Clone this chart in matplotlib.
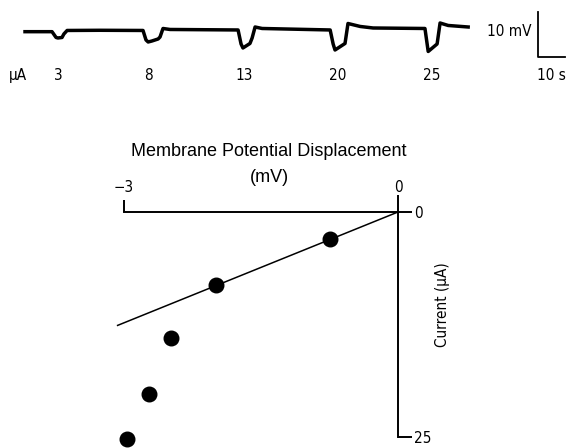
# -*- coding: utf-8 -*-

import matplotlib
matplotlib.use('Agg')
import matplotlib.pyplot as plt

plt.rcParams['font.family'] = ['DejaVu Sans']
plt.rcParams['font.stretch'] = 'condensed'

# Recording trace (time in s, potential in mV relative to rest)
trace_t = [0.0, 10.0, 11.5, 12.2, 13.7, 14.4, 15.6, 27.8, 43.7, 44.8, 45.6, 47.0,
           49.3, 50.0, 51.1, 53.7, 78.9, 80.0, 80.7, 83.3, 84.1, 85.2, 87.8,
           113.0, 114.1, 114.8, 118.5, 119.6, 124.1, 128.9, 148.1, 149.3, 152.6,
           153.7, 156.7, 164.1]
trace_mv = [0.0, 0.0, -1.29, -1.40, -1.29, -0.51, 0.27, 0.31, 0.27, -1.84, -2.29, -2.07,
            -1.62, -1.18, 0.71, 0.49, 0.38, -2.73, -3.62, -2.62, -1.40, 1.04, 0.71,
            0.38, -2.73, -4.07, -2.62, 1.82, 1.16, 0.82, 0.71, -4.40, -2.73,
            1.93, 1.38, 1.04]

# current steps and where they were applied
step_labels = ['3', '8', '13', '20', '25']
step_t = [12.2, 45.6, 81.1, 115.9, 150.7]

scale_mv = 10
scale_s = 10

# I-V relation
disp_mv = [-0.74, -1.99, -2.49, -2.73, -2.97]
current_ua = [3.0, 8.1, 14.0, 20.2, 25.2]
fit_x = [-3.07, 0.0]
fit_y = [12.6, 0.0]

W, H = 567, 448
fs = 11
fig = plt.figure(figsize=(W / 100, H / 100), dpi=100)

# ---- top: trace ----
ax1 = fig.add_axes([0, 1 - 90 / H, 1, 90 / H])
ax1.plot(trace_t, trace_mv, color='black', linewidth=2.5, solid_joinstyle='round')
ax1.set_xlim(-9.26, 200.7)
ax1.set_ylim(-12.96, 7.04)
ax1.axis('off')

# scale bar
bar_t, bar_v = 190, -5.62
ax1.plot([bar_t, bar_t, bar_t + scale_s], [bar_v + scale_mv, bar_v, bar_v],
         color='black', linewidth=1.3)
ax1.text(bar_t - 2.5, -0.07, '10 mV', ha='right', va='center', fontsize=fs)
ax1.text(bar_t + scale_s / 2, -9.8, '10 s', ha='center', va='center', fontsize=fs)

ax1.text(-2.6, -9.8, 'µA', ha='center', va='center', fontsize=fs)
for lab, t in zip(step_labels, step_t):
    ax1.text(t, -9.8, lab, ha='center', va='center', fontsize=fs)

# ---- bottom: I-V plot ----
x0, x3 = 398, 124          # px of 0 and -3 mV
y0, y25 = 212, 437         # px of 0 and 25 uA
pxmv = (x0 - x3) / 3
pxua = (y25 - y0) / 25
left, bottom = 110, 445
ax2 = fig.add_axes([left / W, (H - bottom) / H, (x0 - left) / W, (bottom - y0) / H])
ax2.set_xlim(-3 - (x3 - left) / pxmv, 0)
ax2.set_ylim((bottom - y0) / pxua, 0)

ax2.plot(fit_x, fit_y, color='black', linewidth=1.1, clip_on=False)
ax2.scatter(disp_mv, current_ua, s=110, color='black', zorder=3, clip_on=False)

for s in ['left', 'bottom']:
    ax2.spines[s].set_visible(False)
ax2.spines['top'].set_bounds(-3, 0)
ax2.spines['right'].set_bounds(0, 25)
ax2.spines['top'].set_linewidth(1.4)
ax2.spines['right'].set_linewidth(1.4)

ax2.xaxis.tick_top()
ax2.set_xticks([-3, 0])
ax2.set_xticklabels(['−3', '0'])
ax2.tick_params(axis='x', direction='out', length=8.6, width=1.4, pad=4, labelsize=fs)
ticks = ax2.xaxis.get_major_ticks()
ticks[1].tick2line.set_markersize(12.2)

ax2.yaxis.tick_right()
ax2.set_yticks([0, 25])
ax2.set_yticklabels(['0', '25'])
ax2.tick_params(axis='y', direction='out', length=10, width=1.4, pad=1.5, labelsize=fs)

title_font = ['Liberation Sans', 'DejaVu Sans']
fig.text(269 / W, 1 - 152 / H, 'Membrane Potential Displacement',
         ha='center', va='center', fontsize=13, family=title_font, stretch='normal')
fig.text(269 / W, 1 - 177 / H, '(mV)',
         ha='center', va='center', fontsize=13, family=title_font, stretch='normal')
fig.text(443 / W, 1 - 305 / H, 'Current (µA)', rotation=90,
         ha='center', va='center', fontsize=fs)

fig.savefig('out.png', dpi=100)
